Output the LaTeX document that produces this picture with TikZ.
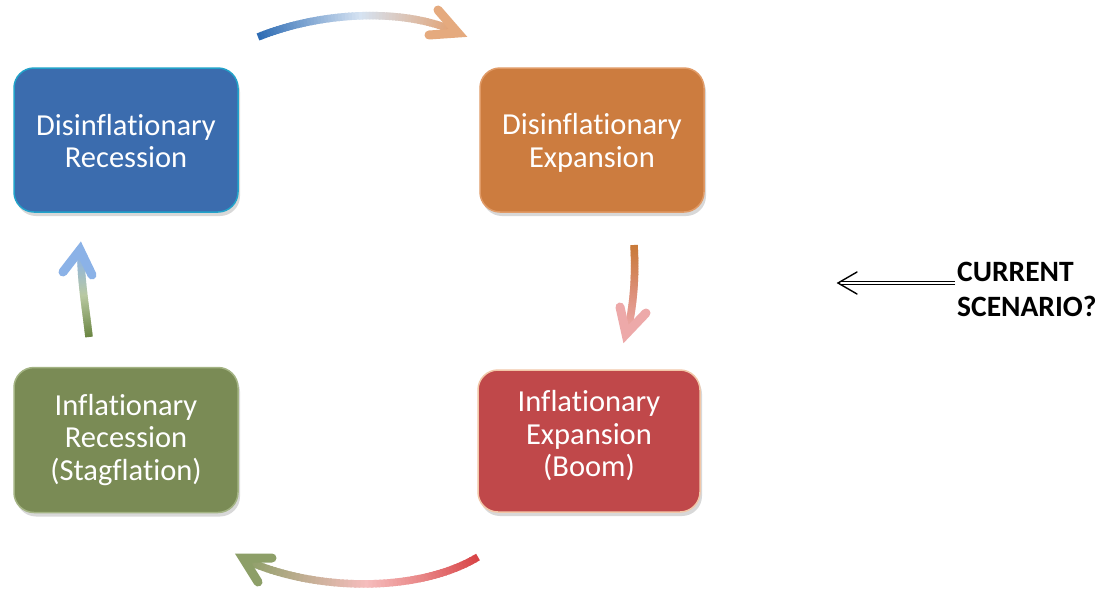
\documentclass[tikz,border=0pt]{standalone}
\usepackage{fontspec}
\setmainfont[Ligatures=NoCommon]{Carlito}
\usetikzlibrary{shadows,calc,arrows.meta}
\definecolor{bxblue}{HTML}{3B6CAE}
\definecolor{bdblue}{HTML}{22A2C9}
\definecolor{bxorange}{HTML}{CC7C3F}
\definecolor{bdorange}{HTML}{E09A66}
\definecolor{bxred}{HTML}{C0484A}
\definecolor{bdred}{HTML}{F2C7A8}
\definecolor{bxgreen}{HTML}{7A8B55}
\definecolor{bdgreen}{HTML}{A3B383}
% arrow gradient colours
\definecolor{aTa}{HTML}{2E6CB4}
\definecolor{aTb}{HTML}{D6E3F2}
\definecolor{aTc}{HTML}{E2A070}
\definecolor{aRa}{HTML}{C97A3A}
\definecolor{aRb}{HTML}{DC8F78}
\definecolor{aRc}{HTML}{EDA9A9}
\definecolor{aBa}{HTML}{D84446}
\definecolor{aBb}{HTML}{F6BDBD}
\definecolor{aBc}{HTML}{8D9F68}
\definecolor{aLa}{HTML}{6C8744}
\definecolor{aLb}{HTML}{B9C9A2}
\definecolor{aLc}{HTML}{8BB2E7}
\newcommand\gradarc[7]{%
  \foreach \i in {0,...,59}{%
    \pgfmathsetmacro\ta{\i/60}%
    \pgfmathsetmacro\tb{min(1,(\i+1.4)/60)}%
    \pgfmathsetmacro\pa{min(100,\ta*200)}%
    \pgfmathsetmacro\pb{max(0,\ta*200-100)}%
    \ifdim\ta pt<0.5pt \colorlet{gc}{#6!\pa!#5}\else\colorlet{gc}{#7!\pb!#6}\fi
    \path (#1) .. controls (#2) and (#3) .. (#4) coordinate[pos=\ta] (ga) coordinate[pos=\tb] (gb);
    \draw[line width=7.5pt, gc] (ga) -- (gb);
  }%
}
\tikzset{
  box/.style={rounded corners=20pt, minimum width=224pt, minimum height=144pt, line width=1.5pt,
    drop shadow={opacity=0.3, shadow xshift=2pt, shadow yshift=-4pt}},
  txt/.style={text=white, align=center, font=\fontsize{30.5}{32.5}\selectfont, inner sep=0pt},
  head/.style={line width=9pt, line cap=round, line join=miter},
}
\begin{document}
\begin{tikzpicture}[x=1pt,y=-1pt]
\useasboundingbox[fill=white] (0,0) rectangle (1101,592);
% boxes
\node[box, fill=bxblue, draw=bdblue, label={[txt, yshift=-1pt]center:{Disinflationary\\Recession}}] (dr) at (126,140) {};
\node[box, fill=bxorange, draw=bdorange, label={[txt, yshift=-3pt]center:{Disinflationary\\Expansion}}] (de) at (592,140) {};
\node[box, fill=bxred, draw=bdred, minimum width=222pt, minimum height=142pt, label={[txt, yshift=5pt]center:{Inflationary\\Expansion\\(Boom)}}] (ie) at (589,441) {};
\node[box, fill=bxgreen, draw=bdgreen, minimum height=145pt, label={[txt, yshift=0pt]center:{Inflationary\\Recession\\(Stagflation)}}] (ir) at (126,440) {};
% top arrow
\coordinate (ts) at (258,37); \coordinate (tc1) at (320,12); \coordinate (tc2) at (400,8); \coordinate (te) at (452,30);
\gradarc{ts}{tc1}{tc2}{te}{aTa}{aTb}{aTc}
\coordinate (th) at (458,33); \coordinate (thw1) at (438,10); \coordinate (thw2) at (429,35);
\draw[head, aTc!90!white] (thw1) -- (th) -- (thw2);
% right arrow
\coordinate (rs) at (634,245); \coordinate (rc1) at (636,280); \coordinate (rc2) at (633,305); \coordinate (re) at (628,330);
\gradarc{rs}{rc1}{rc2}{re}{aRa}{aRb}{aRc}
\coordinate (rh) at (626,334); \coordinate (rhw1) at (620,307); \coordinate (rhw2) at (646,313);
\draw[head, aRc] (rhw1) -- (rh) -- (rhw2);
% bottom arrow
\coordinate (bs) at (478,557); \coordinate (bc1) at (420,592); \coordinate (bc2) at (320,592); \coordinate (be) at (250,562);
\gradarc{bs}{bc1}{bc2}{be}{aBa}{aBb}{aBc}
\coordinate (bh) at (243,558); \coordinate (bhw1) at (272,558); \coordinate (bhw2) at (258,582);
\draw[head, aBc] (bhw1) -- (bh) -- (bhw2);
% left arrow
\coordinate (ls) at (89,337); \coordinate (lc1) at (86,310); \coordinate (lc2) at (81,282); \coordinate (le) at (81,256);
\gradarc{ls}{lc1}{lc2}{le}{aLa}{aLb}{aLc}
\coordinate (lh) at (80,250); \coordinate (lhw1) at (63,272); \coordinate (lhw2) at (92,275);
\draw[head, aLc] (lhw1) -- (lh) -- (lhw2);
% current scenario
\node[anchor=west, align=left, inner sep=0pt, font=\bfseries\fontsize{29.5}{35}\selectfont] (cur) at (957,289) {CURRENT\\SCENARIO?};
\coordinate (cs) at (838,283);
\draw[double, double distance=2.2pt, line width=0.8pt] (cur.west |- cs) ++(-2,0) -- ($(cs)+(2,0)$);
\draw[line width=1.4pt, line cap=round, line join=miter] ($(cs)+(19,-11)$) -- (cs) -- ($(cs)+(19,11)$);
\end{tikzpicture}
\end{document}
